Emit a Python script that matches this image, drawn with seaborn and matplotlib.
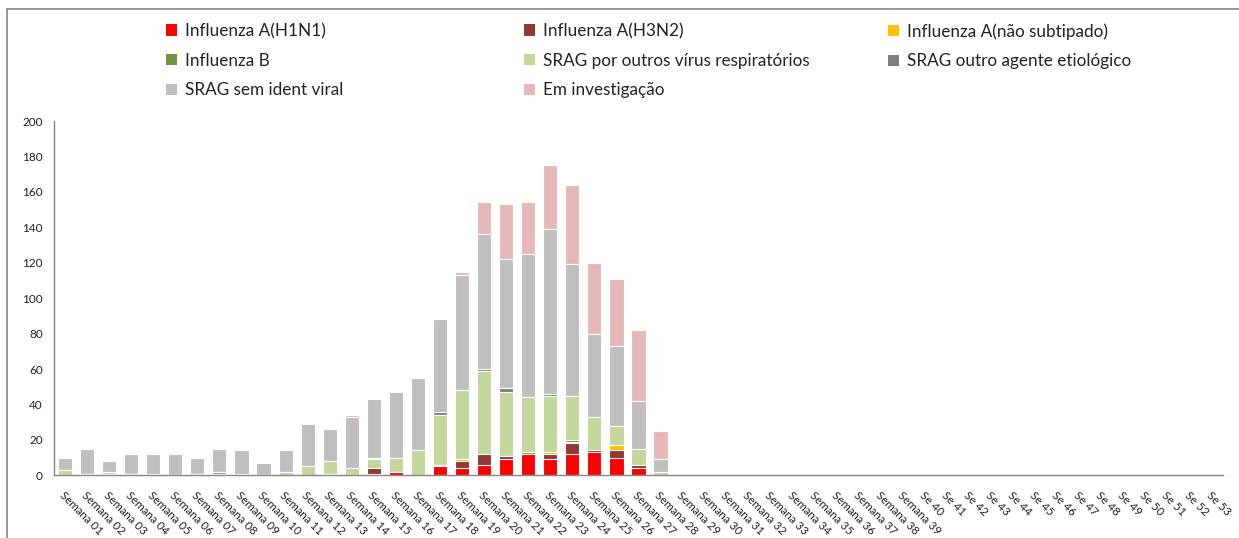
import matplotlib
matplotlib.use("Agg")
import matplotlib.pyplot as plt
import seaborn as sns
import numpy as np
import pandas as pd
from matplotlib.lines import Line2D
from matplotlib.patches import Patch

weeks = [f"Semana {i:02d}" for i in range(1, 40)] + [f"Se {i}" for i in range(40, 54)]

pad0 = [0] * 25  # weeks 29-53
h1n1   = [0, 0, 0, 1, 0, 0, 1, 1, 0, 0, 0, 0, 1, 0, 1, 2, 0, 5, 4, 6, 9, 12, 9, 12, 13, 10, 4, 0] + pad0
h3n2   = [0, 0, 0, 0, 0, 0, 0, 0, 0, 0, 0, 0, 0, 0, 3, 0, 0, 1, 4, 6, 2, 0, 3, 6, 1, 4, 2, 0] + pad0
a_nsub = [0, 0, 0, 0, 0, 0, 0, 0, 0, 0, 0, 0, 0, 0, 0, 0, 0, 0, 1, 0, 0, 0, 1, 1, 0, 3, 0, 0] + pad0
flu_b  = [0, 0, 1, 0, 0, 0, 0, 1, 0, 0, 0, 0, 0, 0, 0, 0, 0, 0, 0, 0, 0, 1, 0, 1, 0, 0, 0, 0] + pad0
outros = [3, 1, 1, 0, 1, 0, 0, 0, 1, 0, 2, 5, 7, 4, 5, 8, 14, 28, 39, 47, 36, 31, 32, 25, 19, 11, 9, 2] + pad0
outro_ag = [0, 0, 0, 0, 0, 0, 0, 0, 0, 0, 0, 0, 0, 0, 1, 0, 0, 2, 0, 1, 2, 0, 1, 0, 0, 0, 0, 0] + pad0
sem_ident = [7, 14, 6, 11, 11, 12, 9, 13, 13, 7, 12, 24, 18, 29, 33, 37, 41, 52, 65, 76, 73, 81, 93, 74, 47, 45, 27, 7] + pad0
investig = [0, 0, 0, 0, 0, 0, 0, 0, 0, 0, 0, 0, 0, 1, 0, 0, 0, 1, 2, 18, 31, 29, 36, 45, 40, 38, 40, 16] + pad0

series_names = ["Influenza A(H1N1)", "Influenza A(H3N2)", "Influenza A(não subtipado)",
                "Influenza B", "SRAG por outros vírus respiratórios", "SRAG outro agente etiológico",
                "SRAG sem ident viral", "Em investigação"]
series_vals = [h1n1, h3n2, a_nsub, flu_b, outros, outro_ag, sem_ident, investig]
colors = ["#FF0000", "#953735", "#FFC000", "#77933C", "#C3D69B", "#7F7F7F", "#BFBFBF", "#E6B9B8"]

sns.set_style("white")
plt.rcParams["font.family"] = ["Lato", "DejaVu Sans"]

fig = plt.figure(figsize=(12.39, 5.38), dpi=100)
W, H = 1239, 538
ax = fig.add_axes([54 / W, 1 - 475.3 / H, (1223 - 54) / W, (475.3 - 121) / H])

cum = np.zeros(len(weeks))
cums = []
for vals in series_vals:
    cum = cum + np.array(vals)
    cums.append(cum.copy())

# draw from the top layer down so each lower cumulative bar sits in front
for name, c, color in reversed(list(zip(series_names, cums, colors))):
    d = pd.DataFrame({"week": weeks, "v": c})
    sns.barplot(data=d, x="week", y="v", order=weeks, color=color, width=0.64,
                edgecolor="white", linewidth=0.8, ax=ax, saturation=1)

ax.set_xlabel("")
ax.set_ylabel("")
ax.set_ylim(0, 200)
ax.set_xlim(-0.5, len(weeks) - 0.5)
ax.set_yticks(range(0, 201, 20))
ax.tick_params(axis="y", length=0, pad=8, labelsize=8.5, labelcolor="#222222")
ax.tick_params(axis="x", length=0, pad=10, labelsize=8.3, labelcolor="#222222")
for lab in ax.get_xticklabels():
    lab.set_rotation(-45)
    lab.set_ha("left")
    lab.set_va("top")
    lab.set_rotation_mode("anchor")
for s in ["top", "right"]:
    ax.spines[s].set_visible(False)
for s in ["left", "bottom"]:
    ax.spines[s].set_color("#868686")
    ax.spines[s].set_linewidth(1.0)

# legend: three uniform columns, filled row-wise
col_x = [166, 524, 888]
row_y = [23, 53, 83]
for ci in range(3):
    idxs = [ci + 3 * r for r in range(3) if ci + 3 * r < len(series_names)]
    handles = [Patch(facecolor=colors[i], edgecolor="none") for i in idxs]
    labels = [series_names[i] for i in idxs]
    leg = fig.legend(handles, labels, loc="upper left",
                     bbox_to_anchor=(col_x[ci] / W, 1 - row_y[0] / H),
                     frameon=False, fontsize=12.3, handlelength=0.65, handleheight=0.65,
                     handletextpad=0.45, labelspacing=0.8, borderaxespad=0, borderpad=0)
    for t in leg.get_texts():
        t.set_color("#222222")

# outer chart border (left and top visible)
fig.add_artist(Line2D([7 / W, 7 / W], [0, 1 - 9 / H], color="#868686", lw=1.2))
fig.add_artist(Line2D([7 / W, 1], [1 - 9 / H, 1 - 9 / H], color="#868686", lw=1.2))

fig.savefig("out.png", dpi=100)
